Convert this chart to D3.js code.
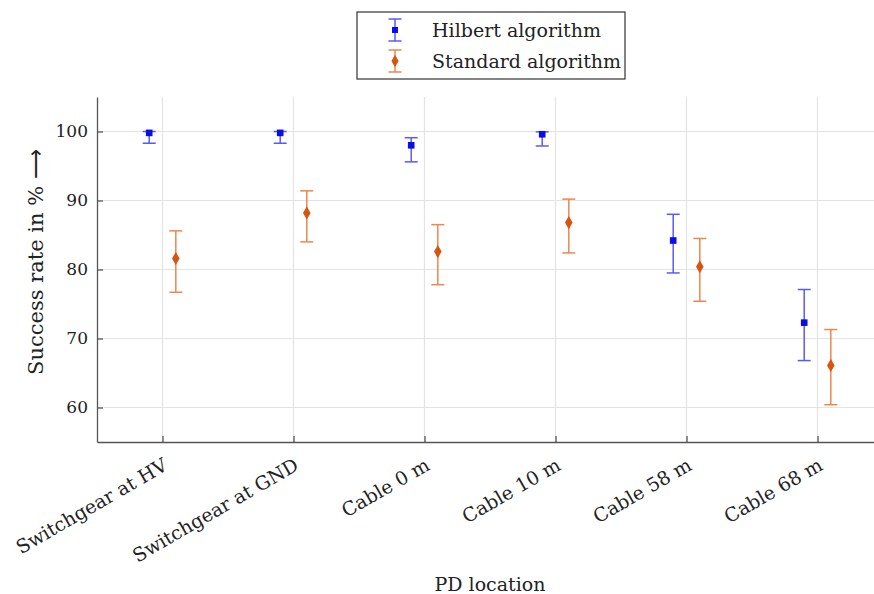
<!DOCTYPE html>
<html>
<head>
<meta charset="utf-8">
<script src="https://cdn.jsdelivr.net/npm/d3@7"></script>
<style>
  body { margin: 0; background: #fff; }
  svg { display: block; font-family: "DejaVu Serif", "Liberation Serif", serif; }
</style>
</head>
<body>
<div id="chart"></div>
<script>
'use strict';

// categories and values
const locations = ["Switchgear at HV", "Switchgear at GND", "Cable 0 m", "Cable 10 m", "Cable 58 m", "Cable 68 m"];

const hilbertRate = [99.8, 99.8, 98.0, 99.6, 84.2, 72.3];
const hilbertLow  = [98.3, 98.3, 95.6, 97.9, 79.5, 66.8];
const hilbertHigh = [100.0, 100.0, 99.1, 99.95, 88.0, 77.1];

const standardRate = [81.6, 88.2, 82.6, 86.8, 80.4, 66.1];
const standardLow  = [76.7, 84.0, 77.8, 82.4, 75.4, 60.4];
const standardHigh = [85.6, 91.4, 86.5, 90.2, 84.5, 71.3];

const yTicks = [60, 70, 80, 90, 100];

const seriesNames = ["Hilbert algorithm", "Standard algorithm"];

//------------------------------------------------------------
// layout
//------------------------------------------------------------
const width = 874, height = 594;
const plotLeft = 97, plotTop = 97, plotBottom = 442;
const catStep = 131;
const fontFamily = "DejaVu Serif, Liberation Serif, serif";

const svg = d3.select("#chart").append("svg")
    .attr("width", width)
    .attr("height", height);

const x = d3.scaleLinear()
    .domain([0.5, locations.length + 0.5])
    .range([plotLeft, plotLeft + catStep * locations.length]);

const y = d3.scaleLinear()
    .domain([55, 105])
    .range([plotBottom, plotTop]);

const gridColor = "#e3e3e3";
const axisColor = "#555";

// grid lines
svg.append("g")
    .selectAll("line")
    .data(yTicks)
    .join("line")
    .attr("x1", plotLeft).attr("x2", width)
    .attr("y1", d => y(d)).attr("y2", d => y(d))
    .attr("stroke", gridColor).attr("stroke-width", 1.2);

svg.append("g")
    .selectAll("line")
    .data(locations)
    .join("line")
    .attr("x1", (d, i) => x(i + 1)).attr("x2", (d, i) => x(i + 1))
    .attr("y1", plotTop).attr("y2", plotBottom)
    .attr("stroke", gridColor).attr("stroke-width", 1.2);

// y axis
const yAxis = svg.append("g")
    .attr("transform", `translate(${plotLeft},0)`)
    .call(d3.axisLeft(y).tickValues(yTicks).tickSizeInner(-6).tickSizeOuter(0).tickPadding(9));
yAxis.select(".domain").attr("stroke", axisColor).attr("stroke-width", 1.3);
yAxis.selectAll(".tick line").attr("stroke", axisColor).attr("stroke-width", 1.3);
yAxis.selectAll("text")
    .attr("font-family", fontFamily)
    .attr("font-size", 17)
    .attr("fill", "#222");

// x axis
const xAxis = svg.append("g")
    .attr("transform", `translate(0,${plotBottom})`)
    .call(d3.axisBottom(x)
        .tickValues(d3.range(1, locations.length + 1))
        .tickFormat(d => locations[d - 1])
        .tickSizeInner(-6).tickSizeOuter(0));
xAxis.select(".domain").attr("stroke", axisColor).attr("stroke-width", 1.3);
xAxis.selectAll(".tick line").attr("stroke", axisColor).attr("stroke-width", 1.3);
xAxis.selectAll("text")
    .attr("font-family", fontFamily)
    .attr("font-size", 19)
    .attr("fill", "#222")
    .attr("text-anchor", "end")
    .attr("dy", null)
    .attr("y", null)
    .attr("transform", "translate(6,27) rotate(-30)");

// axis titles
const yTitle = svg.append("text")
    .attr("transform", `translate(43,262) rotate(-90)`)
    .attr("text-anchor", "middle")
    .attr("font-family", fontFamily)
    .attr("font-size", 21)
    .attr("fill", "#222");
yTitle.append("tspan").text("Success rate in % ");
yTitle.append("tspan").attr("font-family", "DejaVu Sans, sans-serif").attr("font-weight", 300).text("\u27F6");

svg.append("text")
    .attr("x", 490).attr("y", 591)
    .attr("text-anchor", "middle")
    .attr("font-family", fontFamily)
    .attr("font-size", 19)
    .attr("fill", "#222")
    .text("PD location");

//------------------------------------------------------------
// error bars
//------------------------------------------------------------
const offset = 13.3;
const capHalf = 6.5;

function drawSeries(rate, low, high, dx, barColor, markColor, symbolType, symbolSize) {
    const g = svg.append("g");
    const data = rate.map((v, i) => ({ i: i, v: v, lo: low[i], hi: high[i] }));
    const cx = d => x(d.i + 1) + dx;

    g.selectAll("line.bar").data(data).join("line")
        .attr("class", "bar")
        .attr("x1", cx).attr("x2", cx)
        .attr("y1", d => y(d.lo)).attr("y2", d => y(d.hi))
        .attr("stroke", barColor).attr("stroke-width", 1.5);
    g.selectAll("line.capLo").data(data).join("line")
        .attr("class", "capLo")
        .attr("x1", d => cx(d) - capHalf).attr("x2", d => cx(d) + capHalf)
        .attr("y1", d => y(d.lo)).attr("y2", d => y(d.lo))
        .attr("stroke", barColor).attr("stroke-width", 1.5);
    g.selectAll("line.capHi").data(data).join("line")
        .attr("class", "capHi")
        .attr("x1", d => cx(d) - capHalf).attr("x2", d => cx(d) + capHalf)
        .attr("y1", d => y(d.hi)).attr("y2", d => y(d.hi))
        .attr("stroke", barColor).attr("stroke-width", 1.5);
    g.selectAll("path").data(data).join("path")
        .attr("d", d3.symbol().type(symbolType).size(symbolSize))
        .attr("transform", d => `translate(${cx(d)},${y(d.v)})`)
        .attr("fill", markColor);
}

drawSeries(hilbertRate, hilbertLow, hilbertHigh, -offset, "#5a5af5", "#0c0ce6", d3.symbolSquare, 44);
drawSeries(standardRate, standardLow, standardHigh, offset, "#ec874f", "#d95410", d3.symbolDiamond, 50);

//------------------------------------------------------------
// legend
//------------------------------------------------------------
const legend = svg.append("g");
legend.append("rect")
    .attr("x", 357).attr("y", 12)
    .attr("width", 268).attr("height", 67)
    .attr("fill", "#fff")
    .attr("stroke", "#333").attr("stroke-width", 1.2);

const legendItems = [
    { name: seriesNames[0], bar: "#5a5af5", mark: "#0c0ce6", sym: d3.symbolSquare, size: 36 },
    { name: seriesNames[1], bar: "#ec874f", mark: "#d95410", sym: d3.symbolDiamond, size: 44 }
];
legendItems.forEach((it, k) => {
    const cy = 30 + k * 31;
    const lx = 395;
    legend.append("line").attr("x1", lx).attr("x2", lx).attr("y1", cy - 11).attr("y2", cy + 11)
        .attr("stroke", it.bar).attr("stroke-width", 1.5);
    [cy - 11, cy + 11].forEach(yy => {
        legend.append("line").attr("x1", lx - 6.5).attr("x2", lx + 6.5).attr("y1", yy).attr("y2", yy)
            .attr("stroke", it.bar).attr("stroke-width", 1.5);
    });
    legend.append("path")
        .attr("d", d3.symbol().type(it.sym).size(it.size))
        .attr("transform", `translate(${lx},${cy})`)
        .attr("fill", it.mark);
    legend.append("text")
        .attr("x", 432).attr("y", cy + 7)
        .attr("font-family", fontFamily)
        .attr("font-size", 19)
        .attr("fill", "#222")
        .text(it.name);
});
</script>
</body>
</html>
